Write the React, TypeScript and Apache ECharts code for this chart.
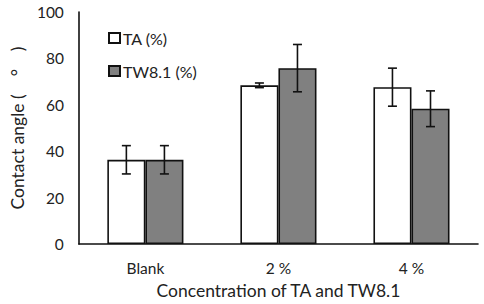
import React, { useEffect, useRef } from "react";
import * as echarts from "echarts";

const categories = ["Blank", "2 %", "4 %"];
const taValues = [36.3, 68.4, 67.6];
const taErrors = [6.1, 1.0, 8.2];
const twValues = [36.3, 75.8, 58.3];
const twErrors = [6.1, 10.2, 7.7];
const yTicks = { min: 0, max: 100, interval: 20 };
const seriesNames = ["TA (%)", "TW8.1 (%)"];

const FONT = "Lato, 'Open Sans', sans-serif";

export default function App() {
  const ref = useRef<HTMLDivElement>(null);
  useEffect(() => {
    document.body.style.margin = "0";
    const chart = echarts.init(ref.current!, null, { renderer: "svg" });
    const errData = (vals: number[], errs: number[]) =>
      vals.map((v, i) => [i, v - errs[i], v + errs[i]]);
    const makeErr = (name: string, vals: number[], errs: number[], side: number) => ({
      type: "custom",
      name: name + "-err",
      data: errData(vals, errs),
      z: 10,
      silent: true,
      renderItem: (params: any, api: any) => {
        const idx = api.value(0);
        const lo = api.coord([idx, api.value(1)]);
        const hi = api.coord([idx, api.value(2)]);
        const band = api.size([1, 0])[0];
        const x = lo[0] + side * band * 0.143;
        const cap = 4.5;
        const style = { stroke: "#111", lineWidth: 1.6 };
        return {
          type: "group",
          children: [
            { type: "line", shape: { x1: x, y1: hi[1], x2: x, y2: lo[1] }, style },
            { type: "line", shape: { x1: x - cap, y1: hi[1], x2: x + cap, y2: hi[1] }, style },
            { type: "line", shape: { x1: x - cap, y1: lo[1], x2: x + cap, y2: lo[1] }, style },
          ],
        };
      },
    });
    chart.setOption({
      animation: false,
      textStyle: { fontFamily: FONT },
      grid: { left: 75, right: 6, top: 12, bottom: 59, containLabel: false },
      legend: {
        data: seriesNames,
        orient: "vertical",
        left: 103,
        top: 25,
        icon: "rect",
        itemWidth: 11,
        itemHeight: 10,
        itemGap: 17,
        textStyle: { fontSize: 16, color: "#222", fontFamily: FONT, padding: [0, 0, 0, -2] },
      },
      xAxis: {
        type: "category",
        data: categories,
        axisTick: { show: false },
        axisLine: { lineStyle: { color: "#111", width: 1.6 } },
        axisLabel: { fontSize: 15.5, color: "#222", margin: 16, fontFamily: FONT },
        name: "Concentration of TA and TW8.1",
        nameLocation: "middle",
        nameGap: 37,
        nameTextStyle: { fontSize: 17.5, color: "#222", fontFamily: FONT },
      },
      yAxis: {
        type: "value",
        min: yTicks.min,
        max: yTicks.max,
        interval: yTicks.interval,
        splitLine: { show: false },
        axisTick: { show: false },
        axisLine: { show: true, lineStyle: { color: "#111", width: 1.6 } },
        axisLabel: { fontSize: 15.5, color: "#222", margin: 15, fontFamily: FONT },
        name: "Contact angle (    °    )",
        nameLocation: "middle",
        nameRotate: 90,
        nameGap: 52,
        nameTextStyle: { fontSize: 17.5, color: "#222", fontFamily: FONT },
      },
      series: [
        {
          type: "bar",
          name: seriesNames[0],
          data: taValues,
          barWidth: "28.6%",
          barGap: "0%",
          itemStyle: { color: "#ffffff", borderColor: "#111", borderWidth: 1.6 },
        },
        {
          type: "bar",
          name: seriesNames[1],
          data: twValues,
          barWidth: "28.6%",
          barGap: "0%",
          itemStyle: { color: "#808080", borderColor: "#111", borderWidth: 1.6 },
        },
        makeErr(seriesNames[0], taValues, taErrors, -1),
        makeErr(seriesNames[1], twValues, twErrors, 1),
      ],
    });
    return () => chart.dispose();
  }, []);
  return <div ref={ref} style={{ width: 484, height: 304 }} />;
}
